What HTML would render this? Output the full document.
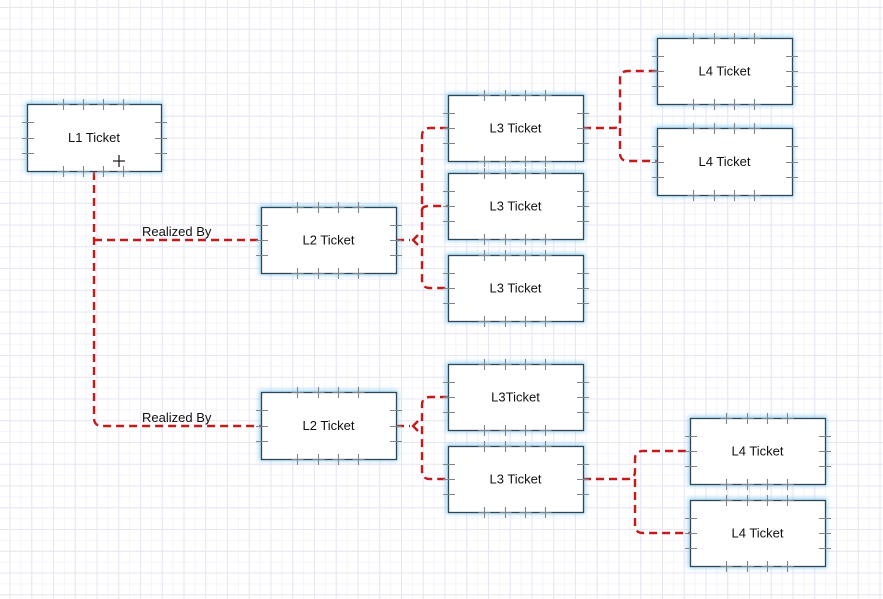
<!DOCTYPE html>
<html><head><meta charset="utf-8"><style>
html,body{margin:0;padding:0;background:#fff;}
body{width:883px;height:599px;overflow:hidden;}
svg{display:block;}
text{font-family:"Liberation Sans",Arial,sans-serif;font-size:13px;fill:#111;}
</style></head><body>
<svg id="s" width="883" height="599" xmlns="http://www.w3.org/2000/svg">
<defs>
<pattern id="gm" width="10.875" height="10.875" patternUnits="userSpaceOnUse" x="9.5" y="7">
<path d="M0 0.5H10.875M0.5 0V10.875" stroke="#f4f4fb" stroke-width="1" fill="none"/>
</pattern>
<pattern id="gM" width="21.75" height="21.75" patternUnits="userSpaceOnUse" x="9.5" y="7">
<path d="M0 0.5H21.75M0.5 0V21.75" stroke="#e6e6f4" stroke-width="1" fill="none"/>
</pattern>
<filter id="glow" x="-20%" y="-30%" width="140%" height="160%">
<feGaussianBlur stdDeviation="2.5"/>
</filter>
</defs>
<rect width="883" height="599" fill="url(#gm)"/>
<rect width="883" height="599" fill="url(#gM)"/>
<g id="lines" fill="none" stroke="#c41a1a" stroke-width="2.4" stroke-dasharray="8,5">
<path d="M94 172V418Q94 426 102 426H261"/>
<path d="M94 240H261"/>
<path d="M396 240H410"/>
<path d="M448 128H430Q422 128 422 136V280Q422 288 430 288H448"/>
<path d="M422 210Q422 206 430 206H448"/>
<path d="M583 128H614Q620 128 620 120V79Q620 71 628 71H657"/>
<path d="M620 128V153Q620 161 628 161H657"/>
<path d="M396 426H410"/>
<path d="M448 397H430Q422 397 422 405V471Q422 479 430 479H448"/>
<path d="M583 479H628Q635 479 635 471V459Q635 451 643 451H690"/>
<path d="M635 479V525Q635 533 643 533H690"/>
</g>
<g stroke="#c41a1a" stroke-width="2.4" fill="none">
<path d="M418 235L413 240L418 245"/>
<path d="M418 421L413 426L418 431"/>
</g>
<text x="142" y="236">Realized By</text>
<text x="142" y="422">Realized By</text>
<g id="boxes"></g>
</svg>
<script>
var B=[[27,104,134,67,"L1 Ticket"],[261,207,135,66,"L2 Ticket"],[261,392,135,67,"L2 Ticket"],
[448,95,135,66,"L3 Ticket"],[448,173,135,66,"L3 Ticket"],[448,255,135,66,"L3 Ticket"],
[448,364,135,66,"L3Ticket"],[448,446,135,66,"L3 Ticket"],
[657,38,135,66,"L4 Ticket"],[657,128,135,67,"L4 Ticket"],[690,418,135,66,"L4 Ticket"],[690,500,135,66,"L4 Ticket"]];
var g=document.getElementById("boxes"),h="";
B.forEach(function(b){var x=b[0],y=b[1],w=b[2],hh=b[3];
h+='<rect x="'+(x-2)+'" y="'+(y-2)+'" width="'+(w+4)+'" height="'+(hh+4)+'" fill="#7ec8ef" opacity="0.7" filter="url(#glow)"/>';
h+='<rect x="'+(x+0.5)+'" y="'+(y+0.5)+'" width="'+w+'" height="'+hh+'" fill="#fff" stroke="#2e4656" stroke-width="1.3"/>';
var t="";
[0.27,0.42,0.57,0.72].forEach(function(f){var tx=Math.round(x+w*f)+0.5;
t+='M'+tx+' '+(y-5)+'V'+(y+6)+'M'+(tx-6)+' '+(y+0.5)+'H'+(tx+6);
t+='M'+tx+' '+(y+hh-5)+'V'+(y+hh+6)+'M'+(tx-6)+' '+(y+hh+0.5)+'H'+(tx+6);});
[0.27,0.5,0.73].forEach(function(f){var ty=Math.round(y+hh*f)+0.5;
t+='M'+(x-5)+' '+ty+'H'+(x+7)+'M'+(x+w-6)+' '+ty+'H'+(x+w+6);});
h+='<path d="'+t+'" stroke="#7d868c" stroke-width="1.1" fill="none"/>';
h+='<text x="'+(x+w/2)+'" y="'+(y+hh/2+4.5)+'" text-anchor="middle">'+b[4]+'</text>';});
h+='<path d="M113 161H125M119 155V167" stroke="#222" stroke-width="1.3"/>';
g.innerHTML=h;
</script>
</body></html>
